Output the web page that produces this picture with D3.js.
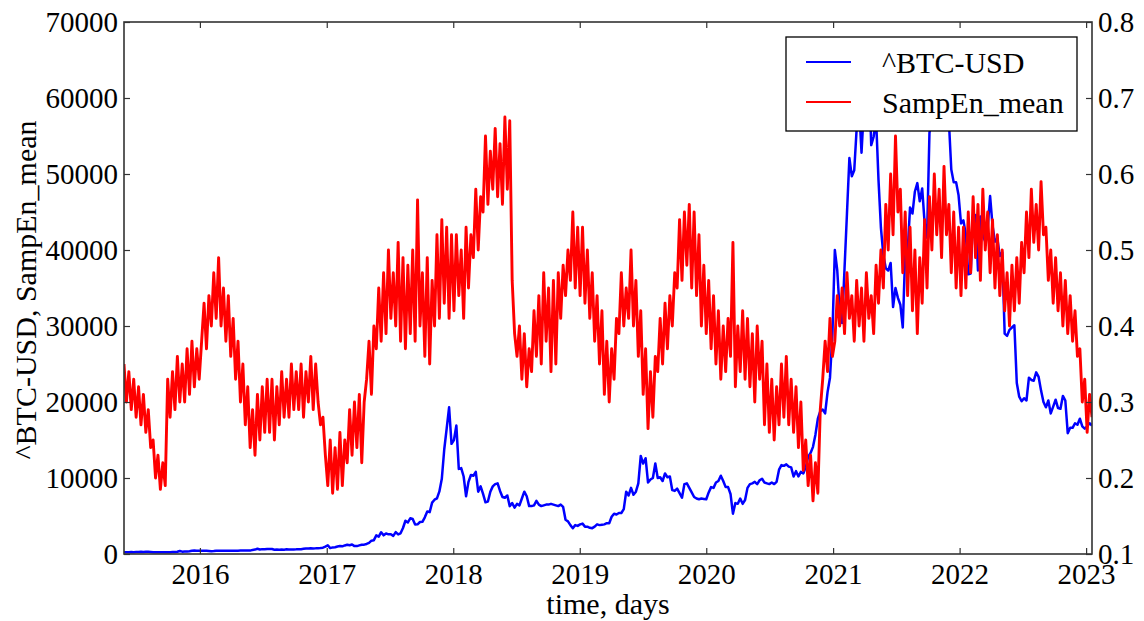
<!DOCTYPE html>
<html>
<head>
<meta charset="utf-8">
<script src="https://cdn.jsdelivr.net/npm/d3@7"></script>
<style>
  body { margin: 0; background: #fff; }
  svg { display: block; }
  text { font-family: "Liberation Serif", "Times New Roman", serif; fill: #000; }
</style>
</head>
<body>
<svg id="chart" width="1144" height="621"></svg>
<script>
// Weekly samples, first one on this date, one every 7 days
const firstWeek = "2015-05-27";

const yearTicks = [2016, 2017, 2018, 2019, 2020, 2021, 2022, 2023];
const priceTicks = [0, 10000, 20000, 30000, 40000, 50000, 60000, 70000];
const entropyTicks = [0.1, 0.2, 0.3, 0.4, 0.5, 0.6, 0.7, 0.8];

// ^BTC-USD close, USD
const btc2015 = [237,225,229,249,243,258,270,285,277,289,282,266,226,229,229,238,233,230,236,246,262,274,304,403,312,323,328,360,416,455,443,426];
const btc2016 = [431,432,419,395, 369,381,422,423, 422,412,416,418,413, 422,425,441,446, 446,454,454,449, 537,581,694,594,640, 611,654,665,655, 566,592,574,579,573, 614,607,596,605, 612,636,630,678, 730,721,745,740,742, 768,779,834,975];
const btc2017 = [1154,778,870,892, 987,1050,1009,1125, 1222,1150,1254,1040,1041, 1133,1217,1228,1318, 1467,1756,1818,2445,2286, 2865,2458,2709,2589, 2608,2385,2873,2577, 2727,3420,4377,4152,4703, 4598,3882,3905,4209, 4229,4829,5605,5505, 6767,7144,7315,8232,9888, 13750,16500,19300,14500];
const btc2018 = [15000,16900,11200,11300,10200, 7600,9500,10400,10300, 10800,8200,8900,7900, 6800,6900,8200,8900, 9200,9300,8300,7500,7400, 7700,6300,6700,6100, 6600,6400,7300,8200, 7600,6300,6300,6400,7000, 6500,6300,6400,6500, 6500,6600,6500,6400,6300, 6500,6200,4500,4300, 3800,3400,3800,3700];
const btc2019 = [3900,4000,3600,3600,3450, 3400,3600,3900,3800, 3850,3900,4050,4050, 4900,5300,5200,5400, 5400,5900,8200,7700,8700, 7800,8200,9300,12900, 11900,12600,9400,9800,10000, 11900,10000,10100,9600, 10600,10100,10200,8400, 8300,8600,8000,7400,9200, 9300,8700,8100,7500, 7300,7200,7300,7250];
const btc2020 = [7200,8100,8800,8700,9400, 9600,10300,9600,8800, 8800,7900,5300,6700, 6600,7300,6600,7100,8700, 9200,9300,9500,9200, 9700,9900,9400,9300, 9200,9400,9200,9500,11100, 11700,11600,11800,11500, 11400,10200,10900,10200,10800, 10600,11400,12800,13300, 14100,15700,17800,18800, 19000,18500,21300,23200,28900];
const btc2021 = [40000,37300,32000,30400, 37600,44800,52100,49700, 50500,56000,58900,52800,58800, 56000,63500,53800,54900, 57300,49200,42900,39300, 37600,37300,38300,32500,35000, 33700,32800,29800,39500, 39700,45600,44800,47700, 48800,46400,48100,43600,41600, 55400,57400,65900,58400, 62900,64900,60400,57600, 57000,50600,48900,48900,47200];
const btc2022 = [43500,43900,42000,36800, 36900,44400,44600,37300, 44400,41900,41100,42900,47100, 43200,41100,41500,39200, 39700,29000,28700,29500, 29800,30100,22500,20700,20100, 20500,20200,23200,22900, 22800,23900,23300,21500,20000, 19300,20200,18500,19400, 20300,19200,19100,20800, 20200,15900,16600,16600,17200, 17000,17800,16800,16500];
const btc2023 = [16800,17200,16900];

// Mean sample entropy, same weeks
const sampEn2015 = [0.35,0.30,0.34,0.29,0.33,0.28,0.32,0.27,0.31,0.26,0.29,0.24,0.25,0.20,0.23,0.185,0.22,0.19,0.33,0.28,0.34,0.29,0.36,0.30,0.35,0.30,0.37,0.31,0.38,0.32,0.37,0.33];
const sampEn2016 = [0.38,0.43,0.37,0.44, 0.40,0.47,0.41,0.49, 0.40,0.45,0.38,0.44, 0.36,0.41,0.33,0.38, 0.30,0.35,0.27,0.32, 0.24,0.29,0.23,0.31, 0.25,0.32,0.26,0.33, 0.26,0.33,0.25,0.32, 0.27,0.34,0.28,0.33, 0.28,0.35,0.29,0.34, 0.29,0.35,0.28,0.34, 0.30,0.36,0.29,0.35, 0.30,0.27,0.28,0.23];
const sampEn2017 = [0.19,0.25,0.18,0.24, 0.185,0.26,0.19,0.25, 0.22,0.29,0.23,0.30, 0.24,0.31,0.22,0.30, 0.33,0.38,0.31,0.40, 0.37,0.45,0.38,0.47, 0.39,0.50,0.41,0.47, 0.40,0.51,0.38,0.49, 0.37,0.48,0.39,0.50, 0.38,0.566,0.40,0.47, 0.36,0.49,0.35,0.46, 0.40,0.52,0.41,0.54, 0.43,0.53,0.41,0.52];
const sampEn2018 = [0.42,0.52,0.44,0.50, 0.41,0.53,0.45,0.52, 0.49,0.58,0.50,0.57, 0.55,0.65,0.56,0.63, 0.58,0.66,0.57,0.64, 0.56,0.675,0.58,0.67, 0.46,0.39,0.36,0.40, 0.33,0.39,0.32,0.37, 0.34,0.42,0.36,0.44, 0.35,0.47,0.38,0.45, 0.34,0.46,0.35,0.47, 0.41,0.48,0.44,0.50, 0.46,0.55,0.45,0.53];
const sampEn2019 = [0.44,0.53,0.43,0.50, 0.41,0.47,0.38,0.44, 0.35,0.42,0.31,0.38, 0.30,0.37,0.33,0.41, 0.39,0.47,0.40,0.45, 0.41,0.50,0.40,0.46, 0.36,0.42,0.31,0.37, 0.265,0.34,0.28,0.36, 0.34,0.41,0.35,0.43, 0.37,0.44,0.40,0.47, 0.45,0.54,0.46,0.55, 0.48,0.56,0.45,0.55, 0.44,0.52,0.40,0.48];
const sampEn2020 = [0.39,0.46,0.37,0.44, 0.35,0.42,0.33,0.40, 0.34,0.41,0.36,0.51, 0.32,0.40,0.34,0.42, 0.33,0.41,0.32,0.39, 0.30,0.40,0.33,0.38, 0.27,0.35,0.26,0.33, 0.25,0.32,0.27,0.35, 0.28,0.36,0.27,0.33, 0.26,0.32,0.24,0.30, 0.21,0.25,0.19,0.23, 0.17,0.22,0.18,0.29, 0.33,0.38,0.34,0.41,0.36];
const sampEn2021 = [0.38,0.44,0.40, 0.45,0.39,0.47,0.41, 0.44,0.38,0.46,0.40, 0.45,0.38,0.47,0.41, 0.44,0.39,0.48,0.43, 0.50,0.45,0.56,0.50, 0.60,0.52,0.65,0.55, 0.58,0.47,0.55,0.44, 0.53,0.42,0.50,0.39, 0.49,0.43,0.54,0.45, 0.57,0.50,0.60,0.52, 0.58,0.49,0.61,0.52, 0.56,0.47,0.55,0.45,0.53];
const sampEn2022 = [0.44,0.53,0.45, 0.55,0.47,0.57,0.49, 0.56,0.46,0.58,0.50, 0.55,0.47,0.54,0.45, 0.52,0.44,0.50,0.42, 0.47,0.40,0.48,0.42, 0.49,0.43,0.51,0.47, 0.55,0.49,0.58,0.51, 0.56,0.50,0.59,0.52, 0.53,0.46,0.50,0.43, 0.49,0.42,0.47,0.40, 0.46,0.39,0.44,0.38, 0.42,0.36,0.37,0.30,0.33];
const sampEn2023 = [0.26,0.31,0.28];

const seriesNames = ["^BTC-USD", "SampEn_mean"];
const seriesColors = ["#0000ff", "#ff0000"];

const btc = [].concat(btc2015, btc2016, btc2017, btc2018, btc2019, btc2020, btc2021, btc2022, btc2023);
const sampEn = [].concat(sampEn2015, sampEn2016, sampEn2017, sampEn2018, sampEn2019, sampEn2020, sampEn2021, sampEn2022, sampEn2023);

const start = d3.utcParse("%Y-%m-%d")(firstWeek);
const dates = btc.map((_, i) => d3.utcDay.offset(start, 7 * i));

const svg = d3.select("#chart");
const plot = { left: 124, right: 1092, top: 22, bottom: 554 };
const fontTick = 29, fontLabel = 30;
const frameColor = "#333";

const x = d3.scaleUtc().domain(d3.extent(dates)).range([plot.left, plot.right]);
const yPrice = d3.scaleLinear().domain([0, 70000]).range([plot.bottom, plot.top]);
const yEnt = d3.scaleLinear().domain([0.1, 0.8]).range([plot.bottom, plot.top]);

svg.append("defs").append("clipPath").attr("id", "plot-clip")
  .append("rect")
  .attr("x", plot.left).attr("y", plot.top)
  .attr("width", plot.right - plot.left).attr("height", plot.bottom - plot.top);

const lines = svg.append("g").attr("clip-path", "url(#plot-clip)");

lines.append("path")
  .datum(btc)
  .attr("fill", "none")
  .attr("stroke", seriesColors[0])
  .attr("stroke-width", 2.5)
  .attr("stroke-linejoin", "round")
  .attr("d", d3.line().x((d, i) => x(dates[i])).y(d => yPrice(d)));

lines.append("path")
  .datum(sampEn)
  .attr("fill", "none")
  .attr("stroke", seriesColors[1])
  .attr("stroke-width", 2.9)
  .attr("stroke-linejoin", "round")
  .attr("d", d3.line().x((d, i) => x(dates[i])).y(d => yEnt(d)));

// Axes: classic inward ticks on all four sides
const tickLen = 6;
const yearDates = yearTicks.map(y => Date.UTC(y, 0, 1));

function styleAxis(g, size) {
  g.select(".domain").remove();
  g.selectAll(".tick line").attr("stroke", frameColor).attr("stroke-width", 1.2);
  g.selectAll(".tick text").attr("font-size", size).attr("fill", "#000")
    .style("font-family", "'Liberation Serif', 'Times New Roman', serif");
}

svg.append("g")
  .attr("transform", `translate(0,${plot.bottom})`)
  .call(d3.axisBottom(x).tickValues(yearDates).tickFormat(d3.utcFormat("%Y"))
    .tickSizeInner(-tickLen).tickSizeOuter(0).tickPadding(9))
  .call(g => styleAxis(g, fontTick));

svg.append("g")
  .attr("transform", `translate(0,${plot.top})`)
  .call(d3.axisTop(x).tickValues(yearDates).tickFormat("")
    .tickSizeInner(-tickLen).tickSizeOuter(0))
  .call(g => styleAxis(g, fontTick));

svg.append("g")
  .attr("transform", `translate(${plot.left},0)`)
  .call(d3.axisLeft(yPrice).tickValues(priceTicks).tickFormat(d3.format("d"))
    .tickSizeInner(-tickLen).tickSizeOuter(0).tickPadding(6))
  .call(g => styleAxis(g, fontTick));

svg.append("g")
  .attr("transform", `translate(${plot.right},0)`)
  .call(d3.axisRight(yEnt).tickValues(entropyTicks).tickFormat(d3.format(".1f"))
    .tickSizeInner(-tickLen).tickSizeOuter(0).tickPadding(6))
  .call(g => styleAxis(g, fontTick));

// Frame
svg.append("rect")
  .attr("x", plot.left).attr("y", plot.top)
  .attr("width", plot.right - plot.left).attr("height", plot.bottom - plot.top)
  .attr("fill", "none").attr("stroke", frameColor).attr("stroke-width", 1.6);

// Axis titles
svg.append("text")
  .attr("x", (plot.left + plot.right) / 2).attr("y", 614)
  .attr("text-anchor", "middle").attr("font-size", fontLabel)
  .text("time, days");

svg.append("text")
  .attr("transform", `translate(36,${(plot.top + plot.bottom) / 2 + 2}) rotate(-90)`)
  .attr("text-anchor", "middle").attr("font-size", fontLabel)
  .text("^BTC-USD, SampEn_mean");

// Legend
const legend = svg.append("g").attr("transform", "translate(786,37)");
legend.append("rect")
  .attr("width", 291).attr("height", 94)
  .attr("fill", "#fff").attr("stroke", "#000").attr("stroke-width", 1.3);
seriesNames.forEach((name, i) => {
  const cy = 25 + i * 40;
  legend.append("line")
    .attr("x1", 20).attr("x2", 65).attr("y1", cy).attr("y2", cy)
    .attr("stroke", seriesColors[i]).attr("stroke-width", 2.2);
  legend.append("text")
    .attr("x", 96).attr("y", cy).attr("dy", "0.35em")
    .attr("font-size", fontLabel)
    .text(name);
});
</script>
</body>
</html>
